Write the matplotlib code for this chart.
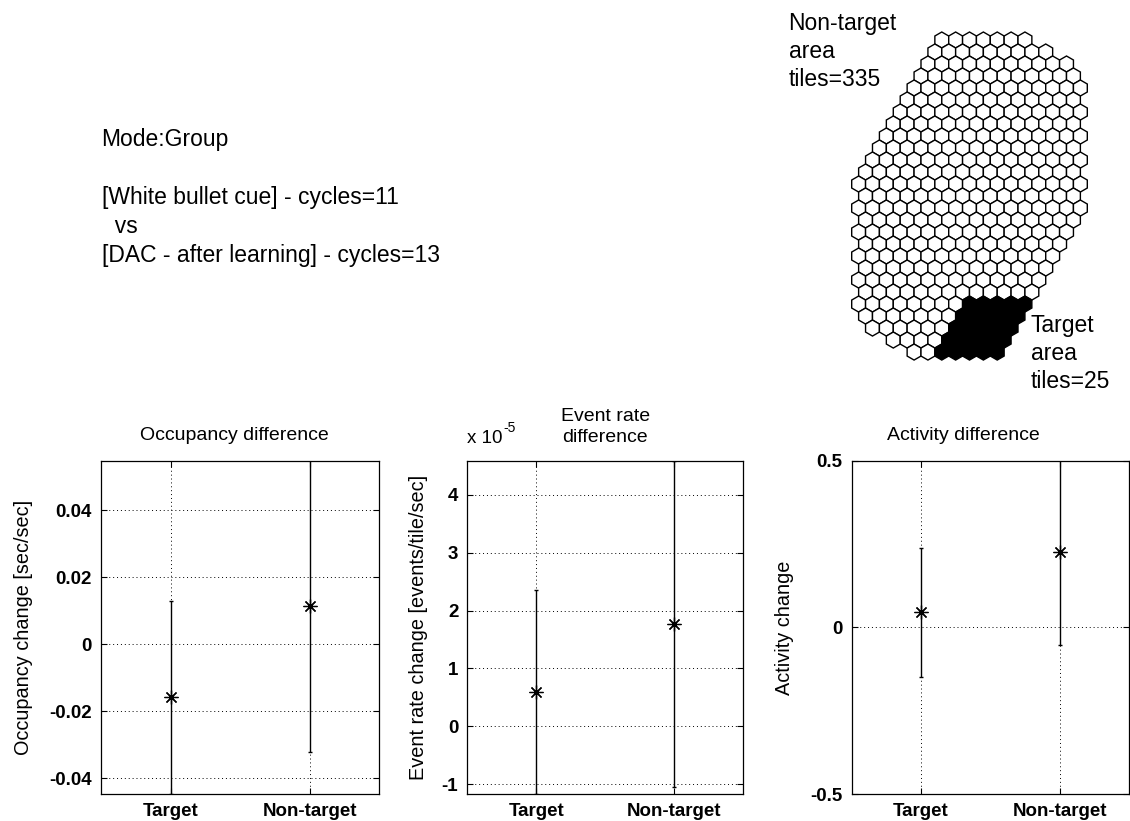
import numpy as np
import matplotlib
matplotlib.use('Agg')
import matplotlib.pyplot as plt
from matplotlib.patches import RegularPolygon

plt.rcParams['font.family'] = ['Liberation Sans', 'DejaVu Sans']
plt.rcParams['mathtext.default'] = 'regular'

# ---------------- data ----------------
categories = ['Target', 'Non-target']

occupancy_mean = [-0.0158, 0.0115]
occupancy_err = [0.0288, 0.0437]
occupancy_ylim = [-0.0447, 0.0548]
occupancy_ticks = [-0.04, -0.02, 0, 0.02, 0.04]
occupancy_ticklabels = ['-0.04', '-0.02', '0', '0.02', '0.04']

# event rate values in units of 1e-5
event_rate_mean = [0.593, 1.766]
event_rate_err = [1.764, 2.816]
event_rate_ylim = [-1.166, 4.586]
event_rate_ticks = [-1, 0, 1, 2, 3, 4]
event_rate_ticklabels = ['-1', '0', '1', '2', '3', '4']

activity_mean = [0.045, 0.225]
activity_err = [0.193, 0.278]
activity_ylim = [-0.5, 0.5]
activity_ticks = [-0.5, 0, 0.5]
activity_ticklabels = ['-0.5', '0', '0.5']

# hexagonal arena: for each row (top to bottom) left / right edge in half-tile units
row_left = [12, 11, 10, 9, 8, 7, 6, 5, 4, 3, 2, 1, 0, 1, 0, 1, 0, 1, 0, 1, 0, 1, 0, 1, 2, 5, 8]
row_right = [26, 29, 32, 33, 34, 33, 34, 33, 34, 33, 34, 33, 34, 33, 34, 33, 32, 31, 30, 29,
             28, 27, 26, 25, 24, 23, 22]
target_rows = [22, 23, 24, 25, 26]
target_tiles_per_row = 5

header_lines = ['Mode:Group', '[White bullet cue] - cycles=11', '  vs',
                '[DAC - after learning] - cycles=13']
nontarget_label = ['Non-target', 'area', 'tiles=335']
target_label = ['Target', 'area', 'tiles=25']

# ---------------- figure ----------------
W, H = 1130, 821
fig = plt.figure(figsize=(W / 100, H / 100), dpi=100)


def fx(px):
    return px / W


def fy(py):
    return 1 - py / H


# header text
header_baselines = [146, 204, 233, 262]
for line, yb in zip(header_lines, header_baselines):
    fig.text(fx(101.5), fy(yb), line, fontsize=16.5, va='baseline', ha='left')

# hex arena
SQ3 = np.sqrt(3)
R = 2 / SQ3
nrows = len(row_left)
hx0, hx1 = 851.7, 1087.3
hy_top = 32.0
unit = (hx1 - hx0) / 34.0
h_units = (nrows - 1) * SQ3 + 2 * R
ax_hex = fig.add_axes([fx(hx0), fy(hy_top + h_units * unit), (hx1 - hx0) / W, h_units * unit / H])
for r, (L, Rr) in enumerate(zip(row_left, row_right)):
    n = (Rr - L) // 2
    for k in range(n):
        cx = L + 1 + 2 * k
        cy = -r * SQ3
        is_target = (r in target_rows) and (k >= n - target_tiles_per_row)
        hexp = RegularPolygon((cx, cy), numVertices=6, radius=R, orientation=0,
                              facecolor='black' if is_target else 'white',
                              edgecolor='black', linewidth=1.0, clip_on=False)
        ax_hex.add_patch(hexp)
ax_hex.set_xlim(0, 34)
ax_hex.set_ylim(-(nrows - 1) * SQ3 - R, R)
ax_hex.axis('off')

for line, yb in zip(nontarget_label, [30, 58, 86]):
    fig.text(fx(788.5), fy(yb), line, fontsize=16.5, va='baseline', ha='left')
for line, yb in zip(target_label, [332, 360, 388]):
    fig.text(fx(1030.5), fy(yb), line, fontsize=16.5, va='baseline', ha='left')

# ---------------- panels ----------------
ax_top, ax_bot = 460.7, 794.0
panels = [
    dict(left=101.0, right=379.0, mean=occupancy_mean, err=occupancy_err, ylim=occupancy_ylim,
         ticks=occupancy_ticks, ticklabels=occupancy_ticklabels,
         title='Occupancy difference', tx=0.478, ty=1.077,
         ylabel='Occupancy change [sec/sec]', lx=23.5),
    dict(left=467.3, right=743.3, mean=event_rate_mean, err=event_rate_err, ylim=event_rate_ylim,
         ticks=event_rate_ticks, ticklabels=event_rate_ticklabels,
         title='Event rate\ndifference', tx=0.5, ty=1.101,
         ylabel='Event rate change [events/tile/sec]', lx=419.0),
    dict(left=851.7, right=1129.0, mean=activity_mean, err=activity_err, ylim=activity_ylim,
         ticks=activity_ticks, ticklabels=activity_ticklabels,
         title='Activity difference', tx=0.404, ty=1.077,
         ylabel='Activity change', lx=785.0),
]

xpos = np.arange(1, len(categories) + 1)
axes = []
for p in panels:
    ax = fig.add_axes([fx(p['left']), fy(ax_bot), (p['right'] - p['left']) / W, (ax_bot - ax_top) / H])
    axes.append(ax)
    ax.errorbar(xpos, p['mean'], yerr=p['err'], fmt='none', ecolor='black',
                elinewidth=1.0, capsize=1.5, capthick=1.0, zorder=3)
    ax.plot(xpos, p['mean'], linestyle='none', marker=(8, 2, 0), markersize=10,
            color='black', markeredgewidth=0.9, zorder=4)
    ax.set_xlim(0.5, len(categories) + 0.5)
    ax.set_ylim(*p['ylim'])
    ax.set_xticks(xpos, categories, fontsize=13.5, fontweight='bold')
    ax.set_yticks(p['ticks'], p['ticklabels'], fontsize=13.5, fontweight='bold')
    ax.tick_params(direction='in', length=4, width=0.8, top=True, right=True, pad=6.5)
    ax.grid(True, linestyle=(0, (1, 3)), linewidth=0.7, color='black')
    ax.set_axisbelow(True)
    for s in ax.spines.values():
        s.set_linewidth(0.9)
    ax.set_title(p['title'], x=p['tx'], y=p['ty'], pad=0, va='center', fontsize=14,
                 linespacing=1.35)
    ax.set_ylabel(p['ylabel'], fontsize=14.3, va='center')
    ax.yaxis.set_label_coords((p['lx'] - p['left']) / (p['right'] - p['left']), 0.5)

# exponent label for event rate
ax2 = axes[1]
ax2.text(0.0, (ax_bot - 443.0) / (ax_bot - ax_top), 'x 10', transform=ax2.transAxes,
         fontsize=13.5, ha='left', va='baseline')
ax2.text((503.5 - 467.3) / 276.0, (ax_bot - 432.0) / (ax_bot - ax_top), '-5', transform=ax2.transAxes,
         fontsize=10, ha='left', va='baseline')

fig.savefig('out.png', dpi=100)
